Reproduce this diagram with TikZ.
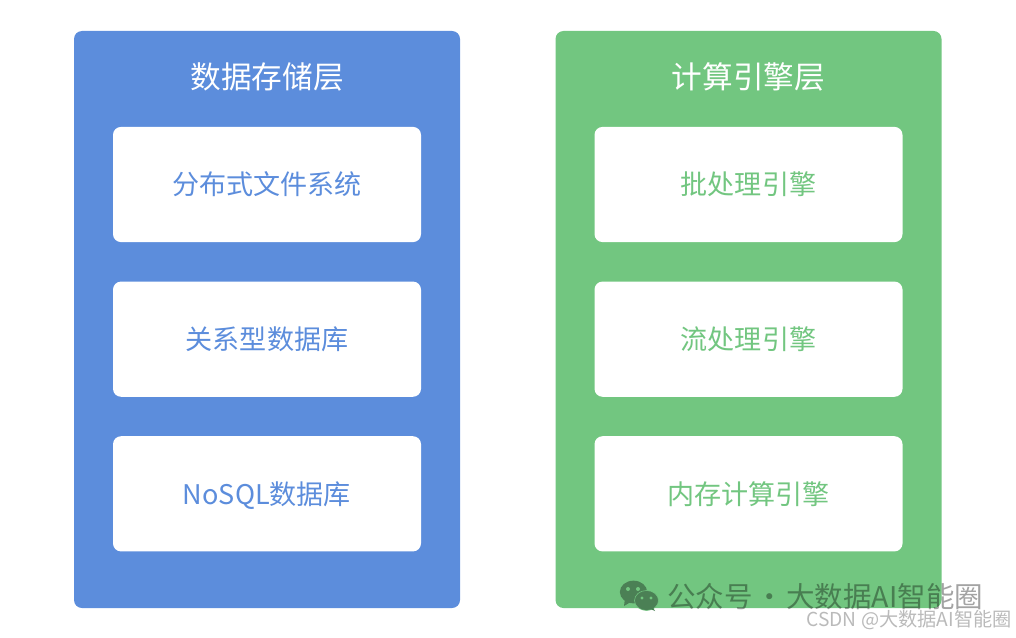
\documentclass[tikz,border=0pt]{standalone}
\usepackage{fontspec}
\setmainfont{Noto Sans CJK SC}
\usepackage{xcolor}
\definecolor{StoreBlue}{HTML}{5C8DDC}
\definecolor{EngineGreen}{HTML}{72C680}
\definecolor{MarkGreen}{HTML}{4B8055}
\usetikzlibrary{positioning, shapes.geometric}
\tikzset{
  layerbox/.style={rounded corners=6pt, minimum width=289.5pt, minimum height=432.75pt, inner sep=0pt},
  itembox/.style={fill=white, rounded corners=6pt, minimum width=231pt, minimum height=86.4pt, inner sep=0pt,
    text height=18pt, text depth=2.5pt, font=\fontsize{20.3pt}{24pt}\selectfont},
  layertitle/.style={text=white, inner sep=0pt, font=\fontsize{23pt}{27pt}\selectfont},
  markbig/.style={text=black, text opacity=0.36, inner sep=0pt, font=\fontsize{21.4pt}{26pt}\selectfont},
  marksmall/.style={text=black, text opacity=0.27, inner sep=0pt, font=\fontsize{14.4pt}{17pt}\selectfont},
  bubble/.style={ellipse, fill=MarkGreen, inner sep=0pt},
  bubbleeye/.style={circle, fill=EngineGreen, minimum size=3pt, inner sep=0pt}
}
\begin{document}
\begin{tikzpicture}[x=0.75pt, y=-0.75pt]
\useasboundingbox (0,0) rectangle (1016,638);

% storage layer
\node[layerbox, fill=StoreBlue] (store) at (267,319.5) {};
\node[layertitle] (storetitle) at (267,77) {数据存储层};
\node[itembox, text=StoreBlue] (dfs) at (267,184.5) {分布式文件系统};
\node[itembox, text=StoreBlue, below=29.2pt of dfs] (rdb) {关系型数据库};
\node[itembox, text=StoreBlue, below=29.2pt of rdb] (nosql) {NoSQL数据库};

% compute layer
\node[layerbox, fill=EngineGreen] (engine) at (748.5,319.5) {};
\node[layertitle] (enginetitle) at (748.5,77) {计算引擎层};
\node[itembox, text=EngineGreen] (batch) at (748.5,184.5) {批处理引擎};
\node[itembox, text=EngineGreen, below=29.2pt of batch] (stream) {流处理引擎};
\node[itembox, text=EngineGreen, below=29.2pt of stream] (memory) {内存计算引擎};

% watermarks
\node[bubble, minimum width=20.5pt, minimum height=17pt] (bubbleback) at (633.5,592) {};
\fill[MarkGreen] (625,598) -- (624,606) -- (634,600) -- cycle;
\node[bubble, draw=EngineGreen, minimum width=18pt, minimum height=15pt] (bubblefront) at (646.5,600.5) {};
\fill[MarkGreen] (652,606) -- (655,611) -- (646,607) -- cycle;
\node[bubbleeye] (eyeone) at (628,589) {};
\node[bubbleeye] (eyetwo) at (638,589) {};
\node[bubbleeye, minimum size=2.5pt] (eyethree) at (642,598) {};
\node[bubbleeye, minimum size=2.5pt] (eyefour) at (651,598) {};
\node[markbig, anchor=west] (markline) at (667,597) {公众号\hspace{-3pt} · \hspace{-3pt}大数据AI智能圈};
\node[marksmall, anchor=east] (csdn) at (1012,620) {CSDN @大数据AI智能圈};
\end{tikzpicture}
\end{document}
